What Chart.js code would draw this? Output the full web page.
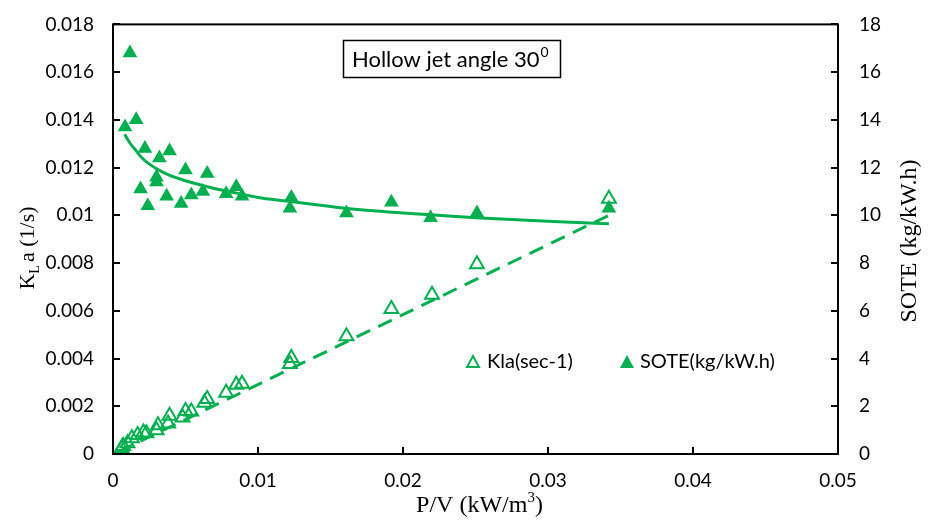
<!DOCTYPE html>
<html>
<head>
<meta charset="utf-8">
<script src="https://cdn.jsdelivr.net/npm/chart.js@4"></script>
<style>
  html, body { margin: 0; padding: 0; background: #fff; }
  #wrap { width: 928px; height: 521px; }
</style>
</head>
<body>
<div id="wrap"><canvas id="c" width="928" height="521"></canvas></div>
<script>
// data
const klaX = [0.0006, 0.0007, 0.001, 0.0013, 0.0017, 0.0021, 0.0023, 0.003, 0.0031, 0.0038, 0.0039, 0.0048, 0.005, 0.0054, 0.0063, 0.0065, 0.0078, 0.0085, 0.0089, 0.0122, 0.0123, 0.0161, 0.0192, 0.022, 0.0251, 0.0342];
const klaY = [0.00025, 0.00033, 0.00045, 0.00066, 0.0008, 0.0009, 0.00087, 0.001, 0.0012, 0.00128, 0.0016, 0.00153, 0.0018, 0.00178, 0.00215, 0.0023, 0.00257, 0.0029, 0.00294, 0.00377, 0.00402, 0.00493, 0.00608, 0.00667, 0.00795, 0.0107];

const soteX = [0.00083, 0.00117, 0.0016, 0.0019, 0.0022, 0.0024, 0.003, 0.003, 0.0032, 0.0037, 0.0039, 0.0047, 0.005, 0.0054, 0.0062, 0.0065, 0.0078, 0.0085, 0.0089, 0.0122, 0.0123, 0.0161, 0.0192, 0.0219, 0.0251, 0.0342];
const soteY = [13.7, 16.8, 14.0, 11.1, 12.8, 10.4, 11.6, 11.4, 12.4, 10.8, 12.7, 10.5, 11.9, 10.85, 11.0, 11.75, 10.9, 11.2, 10.8, 10.3, 10.75, 10.1, 10.55, 9.9, 10.1, 10.3];

// trend lines
const klaTrendX = [0.0004, 0.0342];
const klaTrendY = [0.0001, 0.0100];
const soteTrendX = [0.0008, 0.0012, 0.0016, 0.002, 0.003, 0.004, 0.005, 0.0065, 0.008, 0.01, 0.012, 0.016, 0.02, 0.025, 0.03, 0.0342];
const soteTrendY = [13.4, 13.0, 12.7, 12.4, 11.95, 11.65, 11.45, 11.2, 11.0, 10.75, 10.6, 10.3, 10.1, 9.9, 9.75, 9.65];

const xTicks = [0, 0.01, 0.02, 0.03, 0.04, 0.05];
const green = '#00B050';
const serif = '"Liberation Serif"';

const pts = (xs, ys) => xs.map((x, i) => ({ x: x, y: ys[i] }));

const frame = {
  id: 'frame',
  afterDraw(chart) {
    const { ctx, chartArea: a, scales } = chart;
    ctx.save();
    ctx.strokeStyle = '#000';
    ctx.lineWidth = 2;
    ctx.strokeRect(a.left, a.top, a.right - a.left, a.bottom - a.top);
    ctx.beginPath();
    scales.x.ticks.forEach(t => {
      const px = Math.round(scales.x.getPixelForValue(t.value));
      ctx.moveTo(px, a.bottom); ctx.lineTo(px, a.bottom - 7);
    });
    scales.y.ticks.forEach(t => {
      const py = Math.round(scales.y.getPixelForValue(t.value));
      ctx.moveTo(a.left, py); ctx.lineTo(a.left + 7, py);
    });
    scales.y2.ticks.forEach(t => {
      const py = Math.round(scales.y2.getPixelForValue(t.value));
      ctx.moveTo(a.right, py); ctx.lineTo(a.right - 7, py);
    });
    ctx.stroke();

    // title box
    ctx.fillStyle = '#000';
    ctx.textBaseline = 'middle';
    ctx.textAlign = 'left';
    ctx.lineWidth = 1.5;
    ctx.strokeRect(343.5, 40.5, 217, 37);
    ctx.font = '22px Lato';
    const main = 'Hollow jet angle 30';
    ctx.fillText(main, 352, 60);
    const w = ctx.measureText(main).width;
    ctx.font = '14px Lato';
    ctx.fillText('0', 352 + w + 1, 52);

    // legend
    const ly = 362;
    ctx.lineWidth = 2;
    ctx.strokeStyle = green;
    ctx.fillStyle = green;
    ctx.beginPath();
    ctx.moveTo(473, ly - 6); ctx.lineTo(479, ly + 5); ctx.lineTo(467, ly + 5); ctx.closePath();
    ctx.stroke();
    ctx.beginPath();
    ctx.moveTo(627, ly - 7); ctx.lineTo(634, ly + 6); ctx.lineTo(620, ly + 6); ctx.closePath();
    ctx.fill();
    ctx.fillStyle = '#000';
    ctx.font = '20px Lato';
    ctx.fillText('Kla(sec-1)', 487, ly);
    ctx.fillText('SOTE(kg/kW.h)', 640, ly);

    // x title: P/V (kW/m3)
    ctx.textBaseline = 'alphabetic';
    ctx.font = '24px ' + serif;
    const xt = 'P/V (kW/m';
    const xw = ctx.measureText(xt).width;
    const cw = ctx.measureText(')').width;
    ctx.font = '15px ' + serif;
    const sw = ctx.measureText('3').width;
    const sx = (a.left + a.right) / 2 + 4 - (xw + sw + cw) / 2;
    ctx.font = '24px ' + serif;
    ctx.fillText(xt, sx, 512);
    ctx.fillText(')', sx + xw + sw, 512);
    ctx.font = '15px ' + serif;
    ctx.fillText('3', sx + xw, 502);

    // left title: K_L a (1/s)
    ctx.save();
    ctx.translate(34, 248);
    ctx.rotate(-Math.PI / 2);
    ctx.font = '22px ' + serif;
    const kw = ctx.measureText('K').width;
    const rest = 'a (1/s)';
    const rw = ctx.measureText(rest).width;
    ctx.font = '14px ' + serif;
    const lw = ctx.measureText('L').width;
    const lx = -(kw + lw + 3 + rw) / 2;
    ctx.font = '22px ' + serif;
    ctx.fillText('K', lx, 0);
    ctx.fillText(rest, lx + kw + lw + 3, 0);
    ctx.font = '14px ' + serif;
    ctx.fillText('L', lx + kw, 5);
    ctx.restore();

    // right title
    ctx.save();
    ctx.translate(916, 241);
    ctx.rotate(-Math.PI / 2);
    ctx.textAlign = 'center';
    ctx.font = '24px ' + serif;
    ctx.fillText('SOTE (kg/kW.h)', 0, 0);
    ctx.restore();
    ctx.restore();
  }
};

new Chart(document.getElementById('c'), {
  type: 'scatter',
  data: {
    datasets: [
      {
        label: 'SOTE trend', data: pts(soteTrendX, soteTrendY), yAxisID: 'y2',
        showLine: true, borderColor: green, borderWidth: 3, pointRadius: 0,
        cubicInterpolationMode: 'monotone', order: 4
      },
      {
        label: 'Kla trend', data: pts(klaTrendX, klaTrendY), yAxisID: 'y',
        showLine: true, borderColor: green, borderWidth: 3, borderDash: [15, 9], pointRadius: 0, order: 3
      },
      {
        label: 'SOTE(kg/kW.h)', data: pts(soteX, soteY), yAxisID: 'y2',
        pointStyle: 'triangle', pointRadius: 8.5, backgroundColor: green, borderColor: green, borderWidth: 0, order: 2
      },
      {
        label: 'Kla(sec-1)', data: pts(klaX, klaY), yAxisID: 'y',
        pointStyle: 'triangle', pointRadius: 8, backgroundColor: 'rgba(255,255,255,0)', borderColor: green, borderWidth: 2, order: 1
      }
    ]
  },
  options: {
    responsive: false,
    animation: false,
    layout: { padding: { top: 19, left: 0, right: 0, bottom: 0 } },
    plugins: { legend: { display: false }, tooltip: { enabled: false } },
    scales: {
      x: {
        type: 'linear', min: 0, max: 0.05,
        afterBuildTicks: s => { s.ticks = xTicks.map(v => ({ value: v })); },
        grid: { display: false }, border: { display: false },
        ticks: { color: '#000', font: { family: 'Lato', size: 19 }, padding: 7, maxRotation: 0,
                 callback: v => String(+v.toFixed(3)) },
        afterFit: s => { s.height = 67; }
      },
      y: {
        position: 'left', min: 0, max: 0.018,
        grid: { display: false }, border: { display: false },
        ticks: { stepSize: 0.002, color: '#000', font: { family: 'Lato', size: 19 }, padding: 11,
                 callback: v => String(+v.toFixed(3)) },
        afterFit: s => { s.width = 113; }
      },
      y2: {
        position: 'right', min: 0, max: 18,
        grid: { display: false }, border: { display: false },
        ticks: { stepSize: 2, color: '#000', font: { family: 'Lato', size: 19 }, padding: 13 },
        afterFit: s => { s.width = 90; }
      }
    }
  },
  plugins: [frame]
});
</script>
</body>
</html>
